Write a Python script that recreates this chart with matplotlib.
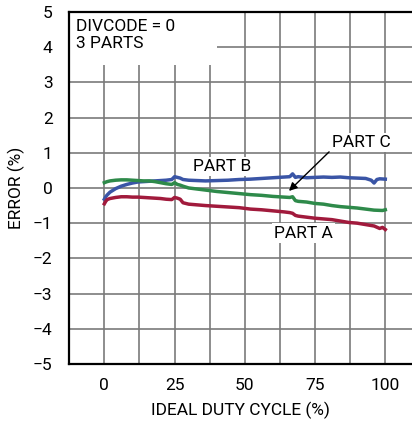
import matplotlib
matplotlib.use("Agg")
import matplotlib.pyplot as plt
from matplotlib.patches import Rectangle

plt.rcParams['font.family'] = ['Roboto', 'DejaVu Sans']

# ---- data ----
xa = [0, 0.5, 1, 2, 4, 6, 8, 10, 12, 14, 16, 18, 20, 22, 24, 25, 26, 27, 28, 30, 33, 36, 40, 44, 48,
      52, 56, 60, 64, 66, 67, 68, 69, 72, 75, 78, 81, 84, 87, 90, 93, 96, 98, 99, 100]
part_a = [-0.45, -0.38, -0.33, -0.3, -0.27, -0.25, -0.25, -0.26, -0.26, -0.27, -0.28, -0.29, -0.3, -0.32,
          -0.33, -0.27, -0.29, -0.32, -0.42, -0.46, -0.48, -0.5, -0.52, -0.54, -0.56, -0.6, -0.62, -0.65,
          -0.68, -0.7, -0.72, -0.78, -0.8, -0.83, -0.86, -0.88, -0.9, -0.94, -0.98, -1.0, -1.04, -1.08,
          -1.15, -1.12, -1.18]

xb = [0, 0.5, 1, 2, 4, 6, 8, 10, 12, 14, 16, 18, 20, 22, 24, 25, 26, 27, 28, 30, 33, 36, 40, 44, 48,
      52, 56, 60, 64, 66, 67, 68, 69, 72, 75, 78, 81, 84, 87, 90, 93, 95, 96, 97, 98, 100]
part_b = [-0.32, -0.25, -0.2, -0.12, -0.02, 0.05, 0.1, 0.14, 0.17, 0.18, 0.19, 0.2, 0.21, 0.22, 0.24,
          0.32, 0.3, 0.28, 0.24, 0.22, 0.21, 0.2, 0.21, 0.22, 0.24, 0.25, 0.27, 0.29, 0.31, 0.32, 0.4,
          0.3, 0.32, 0.29, 0.3, 0.31, 0.3, 0.31, 0.29, 0.28, 0.27, 0.22, 0.14, 0.24, 0.26, 0.25]

xc = [0, 1, 2, 4, 6, 8, 10, 12, 14, 16, 18, 20, 22, 24, 25, 26, 27, 28, 30, 33, 36, 40, 44, 48, 52,
      56, 60, 64, 66, 67, 68, 69, 72, 75, 78, 81, 84, 87, 90, 93, 96, 99, 100]
part_c = [0.15, 0.18, 0.2, 0.22, 0.23, 0.23, 0.22, 0.21, 0.2, 0.2, 0.18, 0.15, 0.12, 0.1, 0.15, 0.1,
          0.08, 0.05, 0.0, -0.03, -0.06, -0.1, -0.13, -0.16, -0.19, -0.21, -0.24, -0.26, -0.27, -0.25,
          -0.36, -0.38, -0.4, -0.44, -0.46, -0.5, -0.53, -0.55, -0.57, -0.6, -0.63, -0.64, -0.62]

xticks = [0, 25, 50, 75, 100]
yticks = [5, 4, 3, 2, 1, 0, -1, -2, -3, -4, -5]
ytick_labels = ['5', '4', '3', '2', '1', '0', '\u22121', '\u22122', '\u22123', '\u22124', '\u22125']

FS = 12.5

# ---- figure ----
fig = plt.figure(figsize=(4.12, 4.25), dpi=100)
ax = fig.add_axes([0.168, 0.1435, 0.832, 0.8285])
ax.set_xlim(-12.5, 109.5)
ax.set_ylim(-5, 5)

grid_x = [-12.5 + 12.5 * i for i in range(1, 10)]
for gx in grid_x:
    ax.axvline(gx, color='#7a7a7a', lw=1.2, zorder=1)
for gy in range(-4, 5):
    ax.axhline(gy, color='#7a7a7a', lw=1.2, zorder=1)

ax.plot(xb, part_b, color='#3a55a6', lw=2.5, zorder=3)
ax.plot(xc, part_c, color='#2e8a4a', lw=2.5, zorder=3)
ax.plot(xa, part_a, color='#a11a3c', lw=2.5, zorder=3)

ax.set_xticks(xticks)
ax.set_yticks(yticks)
ax.set_yticklabels(ytick_labels)
ax.tick_params(length=0, labelsize=FS, pad=10)
ax.tick_params(axis='y', pad=12)

for s in ['left', 'bottom', 'top']:
    ax.spines[s].set_linewidth(1.6)
    ax.spines[s].set_color('black')
ax.spines['right'].set_visible(False)

# white box behind legend text
ax.add_patch(Rectangle((-12.5, 3.5), 52.5, 1.5, facecolor='white', edgecolor='none', zorder=2))
ax.text(-10, 4.8, 'DIVCODE = 0\n3 PARTS', fontsize=FS, va='top', ha='left', linespacing=1.15, zorder=4)

bb = dict(facecolor='white', edgecolor='none', pad=1.5)
ax.text(42, 0.62, 'PART B', fontsize=FS, ha='center', va='center', bbox=bb, zorder=2)
ax.text(71, -1.28, 'PART A', fontsize=FS, ha='center', va='center', bbox=bb, zorder=2)
ax.text(91.5, 1.3, 'PART C', fontsize=FS, ha='center', va='center', bbox=bb, zorder=2)
ax.annotate('', xy=(65, -0.14), xytext=(80.7, 1.08),
            arrowprops=dict(arrowstyle='-|>', color='black', lw=1.0, mutation_scale=12), zorder=5)

ax.set_xlabel('IDEAL DUTY CYCLE (%)', fontsize=FS, labelpad=6)
ax.set_ylabel('ERROR (%)', fontsize=FS, labelpad=6)

fig.savefig('out.png', dpi=100)
